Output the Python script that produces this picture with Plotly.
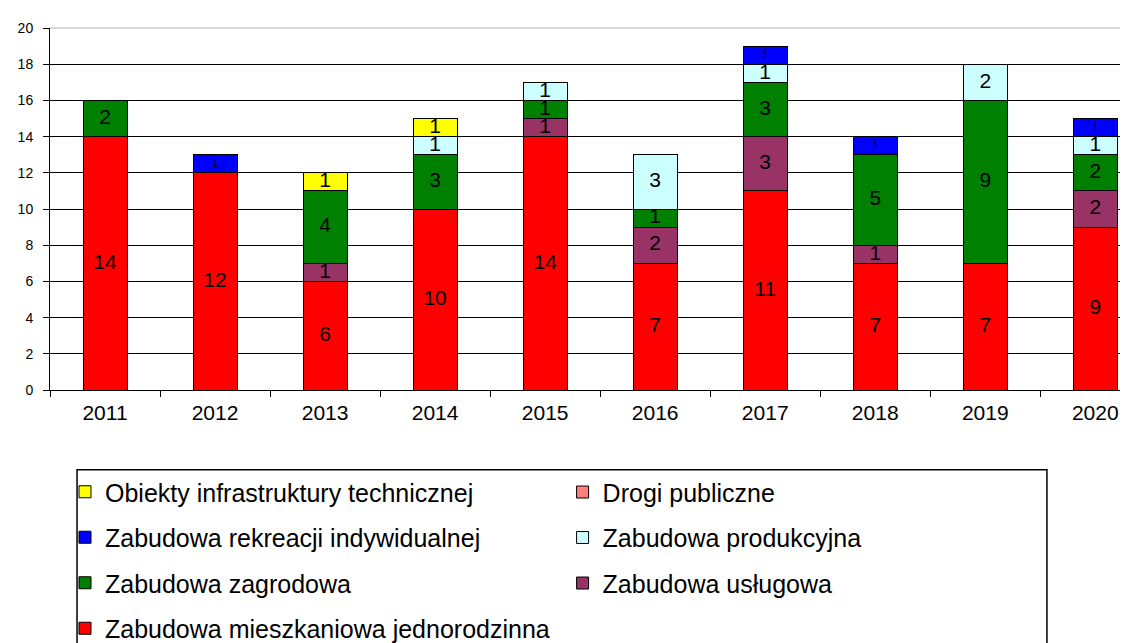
import plotly.graph_objects as go

years = ["2011", "2012", "2013", "2014", "2015", "2016", "2017", "2018", "2019", "2020"]

# series (stack order bottom -> top)
mieszkaniowa = [14, 12, 6, 10, 14, 7, 11, 7, 7, 9]
uslugowa = [0, 0, 1, 0, 1, 2, 3, 1, 0, 2]
zagrodowa = [2, 0, 4, 3, 1, 1, 3, 5, 9, 2]
produkcyjna = [0, 0, 0, 1, 1, 3, 1, 0, 2, 1]
rekreacji = [0, 1, 0, 0, 0, 0, 1, 1, 0, 1]
drogi = [0, 0, 0, 0, 0, 0, 0, 0, 0, 0]
infrastruktura = [0, 0, 1, 1, 0, 0, 0, 0, 0, 0]

series = [
    ("Zabudowa mieszkaniowa jednorodzinna", mieszkaniowa, "#FF0000", "legend", 4, 21),
    ("Zabudowa usługowa", uslugowa, "#993366", "legend2", 3, 21),
    ("Zabudowa zagrodowa", zagrodowa, "#008000", "legend", 3, 21),
    ("Zabudowa produkcyjna", produkcyjna, "#CCFFFF", "legend2", 2, 21),
    ("Zabudowa rekreacji indywidualnej", rekreacji, "#0000FF", "legend", 2, 11),
    ("Drogi publiczne", drogi, "#FF8080", "legend2", 1, 21),
    ("Obiekty infrastruktury technicznej", infrastruktura, "#FFFF00", "legend", 1, 21),
]

FONT = "Liberation Sans, Arial, sans-serif"

fig = go.Figure()
base = [0] * len(years)
for i, (name, vals, color, leg, rank, tsize) in enumerate(series):
    fig.add_trace(go.Bar(
        x=years, y=vals, name=name, width=0.4,
        marker=dict(color=color, line=dict(color="#000000", width=1)),
        legend=leg, legendgroup=name, legendrank=rank,
        hoverinfo="skip",
    ))
    tx, ty, tt = [], [], []
    for j, v in enumerate(vals):
        if v > 0:
            tx.append(years[j])
            ty.append(base[j] + v / 2)
            tt.append(str(v))
    fig.add_trace(go.Scatter(
        x=tx, y=ty, text=tt, mode="text", showlegend=False,
        textfont=dict(size=tsize, color="#000000", family=FONT),
        textposition="middle center", hoverinfo="skip",
    ))
    base = [b + v for b, v in zip(base, vals)]

fig.update_layout(
    barmode="stack",
    width=1128, height=643,
    margin=dict(l=42, r=0, t=20, b=254),
    plot_bgcolor="white", paper_bgcolor="white",
    font=dict(family=FONT, color="#000000"),
    xaxis=dict(
        type="category", range=[-0.5, 9.37],
        showline=True, linecolor="#000000", linewidth=1,
        ticks="outside", tickson="boundaries", ticklen=6, tickcolor="#000000",
        tickfont=dict(size=21, color="#000000"),
        ticklabelstandoff=4, showgrid=False, zeroline=False,
    ),
    yaxis=dict(
        range=[0, 20], dtick=2, tick0=0,
        showline=True, linecolor="#000000", linewidth=1,
        ticks="outside", ticklen=6, tickcolor="#000000",
        tickfont=dict(size=14, color="#000000"),
        ticklabelstandoff=7,
        showgrid=True, gridcolor="#000000", gridwidth=1,
        zeroline=False,
    ),
    legend=dict(
        x=0.0138, xanchor="left", y=-0.219, yanchor="top",
        orientation="v", traceorder="grouped", tracegroupgap=10,
        font=dict(size=25, color="#000000", family=FONT),
        bgcolor="rgba(0,0,0,0)",
    ),
    legend2=dict(
        x=0.472, xanchor="left", y=-0.219, yanchor="top",
        orientation="v", traceorder="grouped", tracegroupgap=10,
        font=dict(size=25, color="#000000", family=FONT),
        bgcolor="rgba(0,0,0,0)",
    ),
    shapes=[
        dict(type="line", xref="paper", yref="paper", x0=0, x1=1, y0=1, y1=1,
             line=dict(color="#D9D9D9", width=2), layer="above"),
        dict(type="rect", xref="paper", yref="paper",
             x0=0.0249, x1=0.918, y0=-0.220, y1=-0.75,
             line=dict(color="#000000", width=1.5), fillcolor="rgba(0,0,0,0)"),
    ],
)

fig.write_html("out.html")
